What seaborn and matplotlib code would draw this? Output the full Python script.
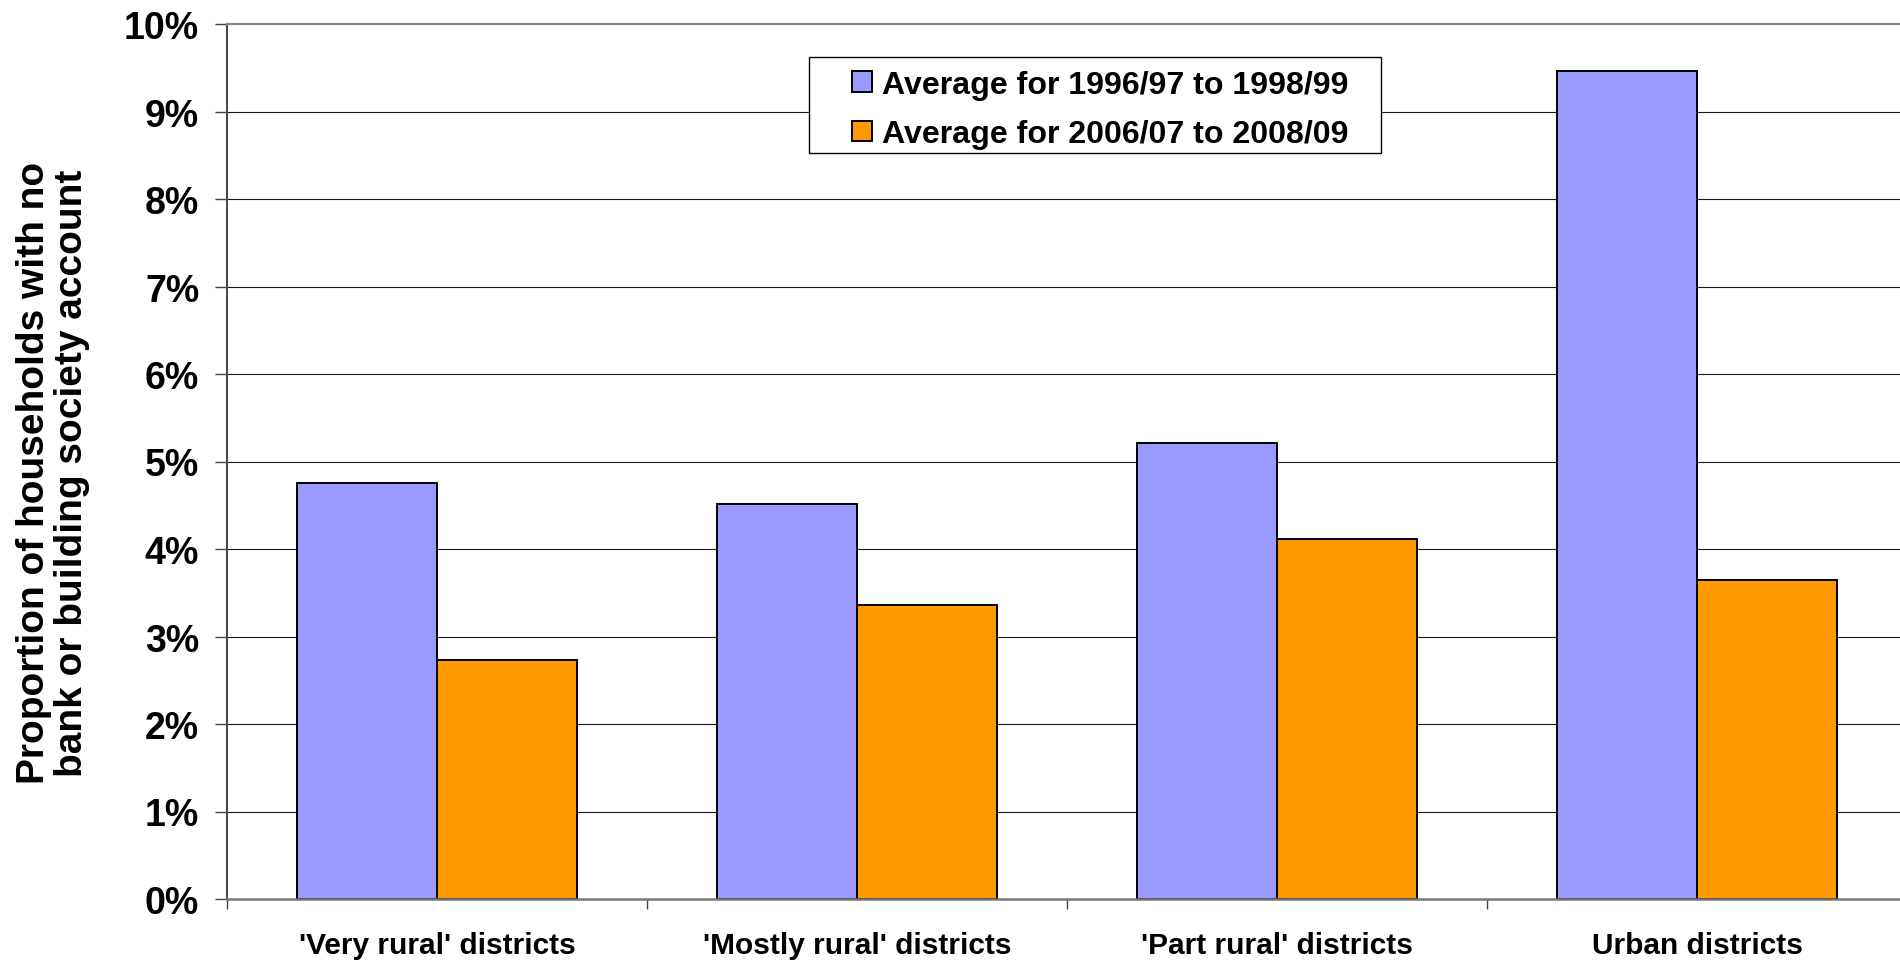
import pandas as pd
import matplotlib
matplotlib.use("Agg")
import matplotlib.pyplot as plt
import seaborn as sns
from matplotlib.patches import Rectangle
from matplotlib.ticker import FixedLocator, FuncFormatter

# Chart data (percent of households)
districts = ["'Very rural' districts", "'Mostly rural' districts",
             "'Part rural' districts", "Urban districts"]
periods = ["Average for 1996/97 to 1998/99", "Average for 2006/07 to 2008/09"]
share_1996_99 = [4.76, 4.52, 5.21, 9.46]
share_2006_09 = [2.73, 3.36, 4.11, 3.65]
y_ticks = list(range(0, 11))

COLORS = ["#9999FF", "#FF9900"]

sns.set_style("white")
plt.rcParams["font.family"] = ["Liberation Sans", "DejaVu Sans"]
plt.rcParams["font.weight"] = "bold"
for key in ["text.color", "axes.labelcolor", "xtick.labelcolor", "ytick.labelcolor"]:
    plt.rcParams[key] = "black"

df = pd.DataFrame({
    "district": districts * 2,
    "period": [periods[0]] * 4 + [periods[1]] * 4,
    "share": share_1996_99 + share_2006_09,
})

W, H = 1900, 962
fig = plt.figure(figsize=(W / 100, H / 100), dpi=100)
ax = fig.add_axes([227 / W, 1 - 900 / H, 1680 / W, 875 / H])

sns.barplot(data=df, x="district", y="share", hue="period", order=districts,
            hue_order=periods, palette=COLORS, width=2 / 3, gap=0,
            edgecolor="black", linewidth=1.4, saturation=1, ax=ax)

ax.set_xlim(-0.5, len(districts) - 0.5)
ax.set_ylim(0, 10)

# gridlines
for v in y_ticks[1:-1]:
    ax.axhline(v, color="#1a1a1a", lw=0.8, zorder=0)
ax.set_axisbelow(True)

# spines
ax.spines["right"].set_visible(False)
ax.spines["top"].set_color("#888888")
ax.spines["top"].set_linewidth(1.6)
ax.spines["left"].set_color("#444444")
ax.spines["left"].set_linewidth(1.4)
ax.spines["bottom"].set_color("#777777")
ax.spines["bottom"].set_linewidth(1.8)

# y axis
ax.yaxis.set_major_locator(FixedLocator(y_ticks))
ax.yaxis.set_major_formatter(FuncFormatter(lambda v, p: f"{int(v)}%"))
ax.tick_params(axis="y", which="major", direction="out", length=9, width=1,
               color="#444444", pad=11, labelsize=27, left=True)

# x axis: labels at category centres, ticks at boundaries
ax.set_xticks(range(len(districts)))
ax.set_xticklabels(districts)
ax.set_xticks([i + 0.5 for i in range(-1, len(districts))], minor=True)
ax.tick_params(axis="x", which="major", length=0, pad=23, labelsize=21.5)
ax.tick_params(axis="x", which="minor", direction="out", length=7, width=1,
               color="#444444", bottom=True)
for lab in ax.get_xticklabels() + ax.get_yticklabels():
    lab.set_fontweight("bold")

ax.set_xlabel("")
ax.set_ylabel("Proportion of households with no\nbank or building society account",
              fontsize=28, fontweight="bold", linespacing=1.1, va="center")
ax.yaxis.set_label_coords(-0.1036, 0.488)

# legend (frame drawn separately to match the wide side padding)
handles, labels = ax.get_legend_handles_labels()
ax.get_legend().remove()
leg = fig.legend(handles, labels, loc="upper left", bbox_to_anchor=(852 / W, 1 - 71 / H),
                 frameon=False, borderaxespad=0, borderpad=0,
                 handlelength=0.62, handleheight=0.62,
                 handletextpad=0.3, labelspacing=0.6,
                 prop={"size": 23.1, "weight": "bold"})
for h in leg.legend_handles:
    h.set_edgecolor("black")
    h.set_linewidth(1.4)
fig.patches.append(Rectangle((809 / W, 1 - 154 / H), 572 / W, 96 / H,
                             transform=fig.transFigure, facecolor="white",
                             edgecolor="black", lw=1.0, zorder=2))
leg.set_zorder(3)

fig.savefig("out.png", dpi=100)
